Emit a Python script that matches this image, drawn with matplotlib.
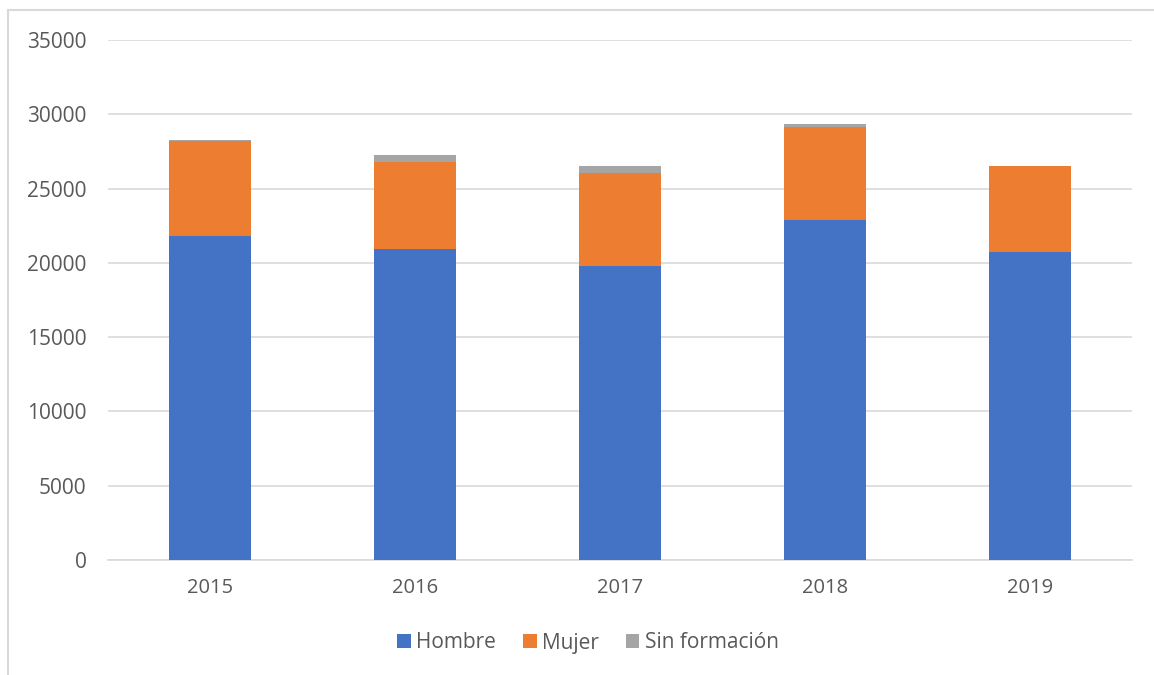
import matplotlib
matplotlib.use("Agg")
import matplotlib.pyplot as plt
from matplotlib.patches import Rectangle
import numpy as np

years = ["2015", "2016", "2017", "2018", "2019"]
hombre = [21800, 20900, 19800, 22900, 20700]
mujer = [6400, 5860, 6260, 6260, 5800]
sin_formacion = [60, 470, 430, 160, 0]

plt.rcParams['font.family'] = ['Open Sans', 'DejaVu Sans']

fig = plt.figure(figsize=(11.54, 6.75), dpi=100)
ax = fig.add_axes([108/1154, 1 - 560/675, (1132-108)/1154, (560-40)/675])

x = np.arange(len(years))
w = 0.4
b1 = ax.bar(x, hombre, w, color="#4472C4", label="Hombre", zorder=3)
bottom2 = np.array(hombre)
b2 = ax.bar(x, mujer, w, bottom=bottom2, color="#ED7D31", label="Mujer", zorder=3)
bottom3 = bottom2 + np.array(mujer)
b3 = ax.bar(x, sin_formacion, w, bottom=bottom3, color="#A5A5A5", label="Sin formación", zorder=3)

ax.set_xlim(-0.5, len(years) - 0.5)
ax.set_ylim(0, 35000)
ax.set_yticks(np.arange(0, 35001, 5000))
ax.set_xticks(x)
ax.set_xticklabels(years)
ax.grid(axis="y", color="#D9D9D9", linewidth=1.2, zorder=0)
for s in ["top", "right", "left"]:
    ax.spines[s].set_visible(False)
ax.spines["bottom"].set_color("#D9D9D9")
ax.spines["bottom"].set_linewidth(1.2)
ax.tick_params(axis="both", length=0, colors="#595959")
ax.tick_params(axis="y", labelsize=15, pad=15.5)
ax.tick_params(axis="x", labelsize=14.5, pad=13)

leg = fig.legend(handles=[b1, b2, b3], loc="center", bbox_to_anchor=(588/1154, 1 - 643/675),
                 ncol=3, frameon=False, fontsize=15, handlelength=0.65, handleheight=0.65,
                 handletextpad=0.25, columnspacing=1.3)
for t in leg.get_texts():
    t.set_color("#595959")

fig.patches.append(Rectangle((8/1154, 1 - 690/675), (1170-8)/1154, (690-10)/675,
                             transform=fig.transFigure, fill=False, edgecolor="#D9D9D9",
                             linewidth=1.5))

fig.savefig("out.png", dpi=100)
